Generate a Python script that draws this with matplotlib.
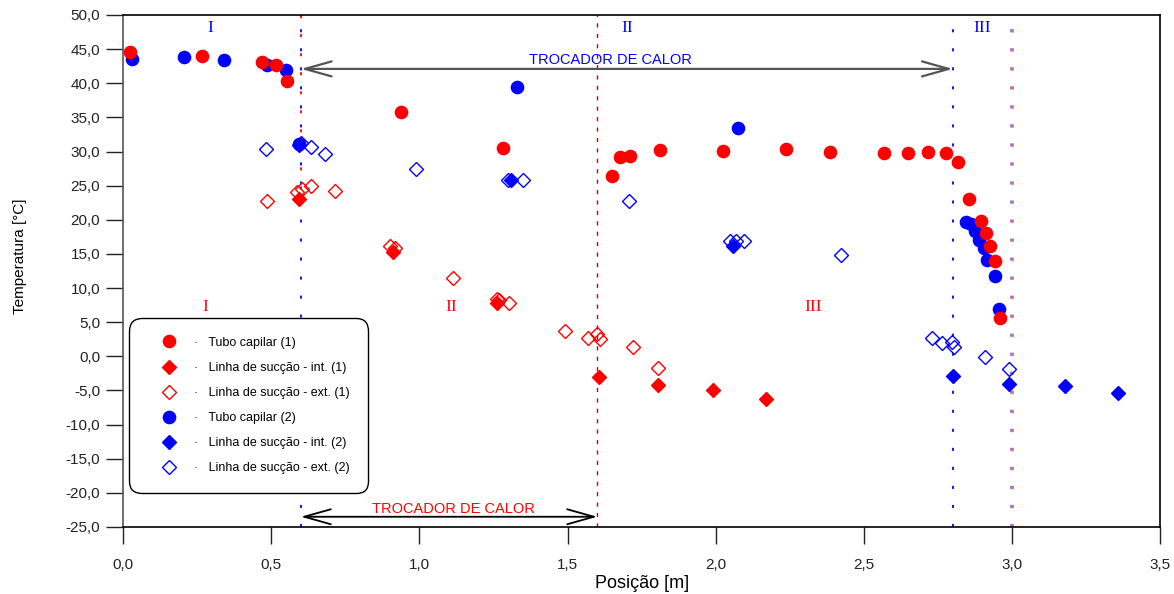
import numpy as np
import matplotlib
matplotlib.use("Agg")
import matplotlib.pyplot as plt
from matplotlib.ticker import FuncFormatter, MultipleLocator

plt.rcParams['font.family'] = ['Liberation Sans', 'DejaVu Sans']
plt.rcParams['lines.scale_dashes'] = False

# Tubo capilar (1) - red filled circles
tc1_x = [0.024, 0.267, 0.469, 0.516, 0.553, 0.938, 1.283, 1.650, 1.677, 1.711, 1.812,
         2.025, 2.238, 2.386, 2.568, 2.649, 2.717, 2.778, 2.818, 2.853, 2.895, 2.913,
         2.927, 2.943, 2.958]
tc1_y = [44.6, 44.0, 43.1, 42.7, 40.3, 35.8, 30.5, 26.4, 29.2, 29.3, 30.2,
         30.1, 30.4, 29.9, 29.8, 29.8, 29.9, 29.8, 28.5, 23.0, 19.8, 18.1,
         16.1, 13.9, 5.6]

# Linha de succao - int. (1) - red filled diamonds
li1_x = [0.595, 0.912, 1.261, 1.607, 1.804, 1.992, 2.169]
li1_y = [23.0, 15.3, 7.8, -3.1, -4.2, -5.0, -6.3]

# Linha de succao - ext. (1) - red open diamonds
le1_x = [0.486, 0.588, 0.603, 0.635, 0.714, 0.901, 0.918, 1.113, 1.263, 1.268, 1.304,
         1.490, 1.570, 1.599, 1.610, 1.720, 1.804]
le1_y = [22.7, 24.0, 24.5, 24.9, 24.2, 16.2, 15.8, 11.4, 8.4, 8.2, 7.8,
         3.7, 2.7, 3.3, 2.5, 1.3, -1.7]

# Tubo capilar (2) - blue filled circles
tc2_x = [0.030, 0.206, 0.340, 0.485, 0.549, 0.594, 1.329, 2.076, 2.845, 2.861, 2.876,
         2.889, 2.905, 2.917, 2.942, 2.957]
tc2_y = [43.5, 43.8, 43.4, 42.7, 41.9, 31.1, 39.5, 33.5, 19.7, 19.4, 18.3,
         17.0, 15.9, 14.1, 11.7, 6.9]

# Linha de succao - int. (2) - blue filled diamonds
li2_x = [0.594, 1.309, 2.059, 2.802, 2.990, 3.180, 3.356]
li2_y = [30.9, 25.8, 16.1, -2.9, -4.1, -4.4, -5.4]

# Linha de succao - ext. (2) - blue open diamonds
le2_x = [0.482, 0.601, 0.635, 0.682, 0.990, 1.298, 1.351, 1.708, 2.049, 2.069, 2.096,
         2.423, 2.729, 2.764, 2.796, 2.805, 2.908, 2.990]
le2_y = [30.4, 31.3, 30.6, 29.6, 27.4, 25.8, 25.8, 22.8, 16.9, 16.9, 16.9,
         14.8, 2.7, 2.0, 2.1, 1.3, -0.1, -1.8]

RED = '#ff0000'
BLUE = '#0000ff'

fig = plt.figure(figsize=(11.74, 5.94), dpi=100)
ax = fig.add_axes([0.1048, 0.1128, 0.8835, 0.862])

# vertical reference lines (dash patterns in points)
ax.axvline(0.6, color=BLUE, lw=1.3, ls=(0, (2.2, 11.5)), zorder=1)
ax.plot([0.6, 0.6], [23, 50], color=RED, lw=1.3, ls=(6.8, (2.2, 11.5)), zorder=1)
ax.axvline(1.6, color='#cc0000', lw=1.0, ls=(0, (3.0, 4.5)), zorder=1)
ax.axvline(2.8, color=BLUE, lw=1.3, ls=(0, (2.2, 11.5)), zorder=1)
ax.axvline(3.0, color='#7070ff', lw=2.6, ls=(0, (2.2, 11.5)), zorder=1)
ax.axvline(3.0, color='#ff7070', lw=1.0, ls=(0, (2.2, 11.5)), zorder=1)

ms_c = 8.8
ms_d = 6.8
ax.plot(tc1_x, tc1_y, 'o', color=RED, ms=ms_c, mec=RED, ls='none', zorder=4,
        label='·   Tubo capilar (1)')
ax.plot(li1_x, li1_y, 'D', color=RED, ms=ms_d, ls='none', zorder=4,
        label='·   Linha de sucção - int. (1)')
ax.plot(le1_x, le1_y, 'D', mfc='none', mec=RED, mew=1.0, ms=ms_d, ls='none', zorder=4,
        label='·   Linha de sucção - ext. (1)')
ax.plot(tc2_x, tc2_y, 'o', color=BLUE, ms=ms_c, ls='none', zorder=3,
        label='·   Tubo capilar (2)')
ax.plot(li2_x, li2_y, 'D', color=BLUE, ms=ms_d, ls='none', zorder=3,
        label='·   Linha de sucção - int. (2)')
ax.plot(le2_x, le2_y, 'D', mfc='none', mec=BLUE, mew=1.0, ms=ms_d, ls='none', zorder=3,
        label='·   Linha de sucção - ext. (2)')

# heat exchanger arrows
arrow_style = '<->, head_length=1.6, head_width=0.45'
ax.annotate('', xy=(0.6, 42.1), xytext=(2.8, 42.1),
            arrowprops=dict(arrowstyle=arrow_style, color='#555555', lw=1.6,
                            mutation_scale=12, shrinkA=0, shrinkB=0))
ax.text(1.644, 43.4, 'TROCADOR DE CALOR', color=BLUE, fontsize=10.5,
        ha='center', va='center')
ax.annotate('', xy=(0.6, -23.5), xytext=(1.6, -23.5),
            arrowprops=dict(arrowstyle=arrow_style, color='black', lw=1.3,
                            mutation_scale=12, shrinkA=0, shrinkB=0))
ax.text(1.114, -22.3, 'TROCADOR DE CALOR', color=RED, fontsize=10.5, ha='center',
        va='center')

# region labels
for xx, lab in [(0.294, 'I'), (1.70, 'II'), (2.90, 'III')]:
    ax.text(xx, 48.1, lab, color=BLUE, fontsize=12.5, ha='center', va='center',
            family='Liberation Serif')
for xx, lab in [(0.277, 'I'), (1.107, 'II'), (2.33, 'III')]:
    ax.text(xx, 7.2, lab, color=RED, fontsize=12.5, ha='center', va='center',
            family='Liberation Serif')

ax.set_xlim(0, 3.5)
ax.set_ylim(-25, 50)
ax.xaxis.set_major_locator(MultipleLocator(0.5))
ax.yaxis.set_major_locator(MultipleLocator(5))
comma = FuncFormatter(lambda v, p: f'{v:.1f}'.replace('.', ','))
ax.xaxis.set_major_formatter(comma)
ax.yaxis.set_major_formatter(comma)
ax.tick_params(axis='both', direction='out', length=12.5, width=1.0, labelsize=11,
               colors='#222222')
ax.tick_params(axis='x', pad=10)
ax.tick_params(axis='y', pad=4)
for s in ax.spines.values():
    s.set_linewidth(1.2)
ax.spines['left'].set_color('#555555')

ax.set_xlabel('Posição [m]', fontsize=13, labelpad=2)
ax.set_ylabel('Temperatura [°C]', fontsize=11, labelpad=28)
ax.yaxis.label.set_y(0.529)

leg = ax.legend(loc='lower left', bbox_to_anchor=(0.006, 0.066), fontsize=9,
                frameon=True, fancybox=True, edgecolor='black', framealpha=1,
                handlelength=3.4, handletextpad=0.25, labelspacing=1.05,
                borderpad=1.5, borderaxespad=0)
leg.get_frame().set_linewidth(1.0)
leg.get_frame().set_boxstyle('round', pad=0.0, rounding_size=1.0)

fig.savefig('out.png', dpi=100)
